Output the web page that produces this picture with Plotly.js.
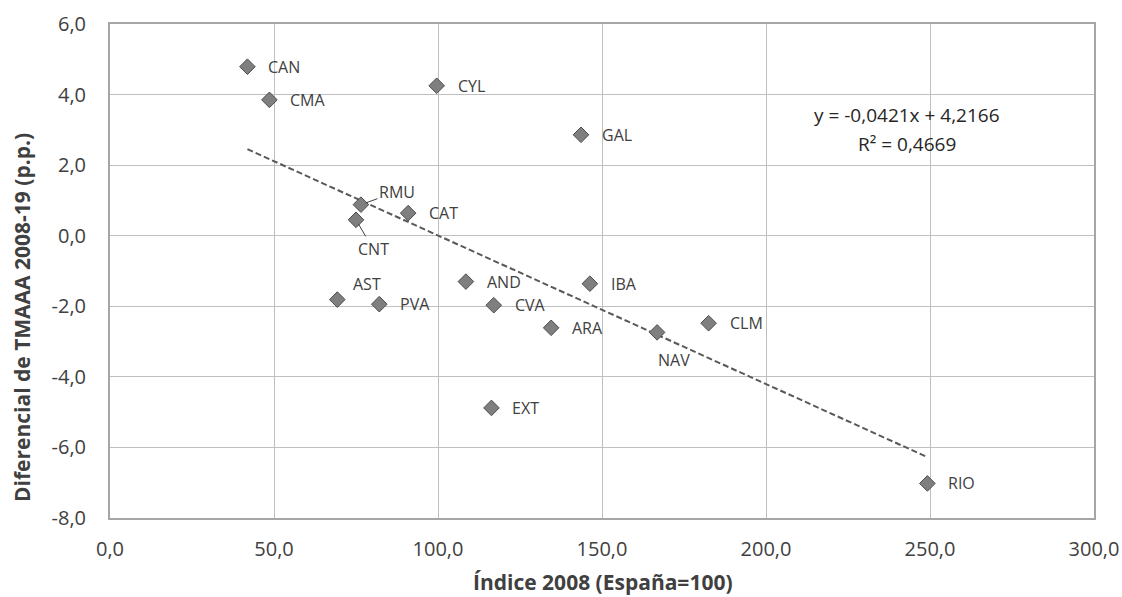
<!DOCTYPE html>
<html>
<head>
<meta charset="utf-8">
<script src="https://cdn.plot.ly/plotly-3.0.1.min.js"></script>
<style>html,body{margin:0;padding:0;background:#fff;}#chart{width:1122px;height:597px;}</style>
</head>
<body>
<div id="chart"></div>
<script>
// Data
const regions = ["CAN","CMA","CYL","GAL","RMU","CNT","CAT","AST","PVA","AND","CVA","IBA","ARA","NAV","CLM","EXT","RIO"];
const index2008 = [41.9, 48.6, 99.6, 143.6, 76.5, 75.0, 90.9, 69.3, 82.1, 108.5, 117.0, 146.3, 134.5, 166.8, 182.5, 116.3, 249.2];
const diffTMAAA = [4.79, 3.85, 4.25, 2.86, 0.88, 0.45, 0.64, -1.81, -1.94, -1.30, -1.97, -1.36, -2.61, -2.74, -2.48, -4.88, -7.02];
const trendSlope = -0.0421;
const trendIntercept = 4.2166;
const trendR2 = 0.4669;
const xTickVals = [0, 50, 100, 150, 200, 250, 300];
const xTickText = ["0,0", "50,0", "100,0", "150,0", "200,0", "250,0", "300,0"];
const yTickVals = [-8, -6, -4, -2, 0, 2, 4, 6];
const yTickText = ["-8,0", "-6,0", "-4,0", "-2,0", "0,0", "2,0", "4,0", "6,0"];
const xTitle = "Índice 2008 (España=100)";
const yTitle = "Diferencial de TMAAA 2008-19 (p.p.)";

// Label placement (style, not data)
const labelPlacement = {
  RMU: {arrow: true, ax: 36, ay: -13},
  CNT: {arrow: true, ax: 17, ay: 29},
  NAV: {center: true, xshift: 17, yshift: -28},
  AST: {center: true, xshift: 30, yshift: 16}
};

const font = "Open Sans, 'Noto Sans', sans-serif";
const textColor = "#404040";

const fmt = (v, d) => v.toFixed(d).replace('.', ',');

const xMin = Math.min(...index2008), xMax = Math.max(...index2008);
const trendX = [xMin, xMax];
const trendY = trendX.map(x => trendSlope * x + trendIntercept);

const annotations = regions.map((r, i) => {
  const p = labelPlacement[r] || {};
  const base = {x: index2008[i], y: diffTMAAA[i], xref: 'x', yref: 'y', text: r,
    font: {family: font, size: 16, color: textColor}};
  if (p.arrow) {
    return Object.assign(base, {showarrow: true, arrowhead: 0, arrowwidth: 1, arrowcolor: '#404040',
      ax: p.ax, ay: p.ay, standoff: 5});
  }
  if (p.center) {
    return Object.assign(base, {showarrow: false, xanchor: 'center', yanchor: 'middle',
      xshift: p.xshift, yshift: p.yshift});
  }
  return Object.assign(base, {showarrow: false, xanchor: 'left', yanchor: 'middle', xshift: 19});
});

annotations.push({
  x: 243, y: 3.42, xref: 'x', yref: 'y', showarrow: false, xanchor: 'center', yanchor: 'middle',
  text: "y = " + fmt(trendSlope, 4) + "x + " + fmt(trendIntercept, 4),
  font: {family: font, size: 19, color: '#262626'}
});
annotations.push({
  x: 243, y: 2.60, xref: 'x', yref: 'y', showarrow: false, xanchor: 'center', yanchor: 'middle',
  text: "R² = " + fmt(trendR2, 4),
  font: {family: font, size: 19, color: '#262626'}
});
// Axis titles (pixel positions from top-left, converted below)
annotations.push({
  x: 603, y: 582, xref: 'paper', yref: 'paper', showarrow: false,
  text: "<b>" + xTitle + "</b>", font: {family: font, size: 21, color: textColor}
});
annotations.push({
  x: 22, y: 318, xref: 'paper', yref: 'paper', showarrow: false, textangle: -90,
  text: "<b>" + yTitle + "</b>", font: {family: font, size: 21, color: textColor}
});

const L = 110, R = 28, T = 24, B = 79, W = 1122, H = 597;
annotations.slice(-2).forEach(a => {
  a.x = (a.x - L) / (W - L - R);
  a.y = ((H - a.y) - B) / (H - T - B);
  a.xanchor = 'center'; a.yanchor = 'middle';
});

const traces = [
  {x: trendX, y: trendY, type: 'scatter', mode: 'lines',
   line: {color: '#595959', width: 2, dash: '6px,3px'}, hoverinfo: 'skip'},
  {x: index2008, y: diffTMAAA, type: 'scatter', mode: 'markers', text: regions,
   marker: {symbol: 'diamond', size: 12, color: '#7f7f7f', line: {color: '#4d4d4d', width: 1}}}
];

const layout = {
  width: W, height: H,
  margin: {l: L, r: R, t: T, b: B},
  paper_bgcolor: '#fff', plot_bgcolor: '#fff',
  showlegend: false,
  font: {family: font, size: 16, color: textColor},
  xaxis: {
    range: [0, 300], tickvals: xTickVals, ticktext: xTickText,
    showgrid: true, gridcolor: '#bfbfbf', gridwidth: 1,
    zeroline: false, showline: true, mirror: true, linecolor: '#a6a6a6', linewidth: 2,
    ticks: '', ticklabelstandoff: 12,
    tickfont: {family: font, size: 20, color: textColor}
  },
  yaxis: {
    range: [-8, 6], tickvals: yTickVals, ticktext: yTickText,
    showgrid: true, gridcolor: '#bfbfbf', gridwidth: 1,
    zeroline: false, showline: true, mirror: true, linecolor: '#a6a6a6', linewidth: 2,
    ticks: '', ticklabelstandoff: 18,
    tickfont: {family: font, size: 20, color: textColor}
  },
  annotations: annotations
};

Plotly.newPlot('chart', traces, layout, {staticPlot: true, displayModeBar: false});
</script>
</body>
</html>
